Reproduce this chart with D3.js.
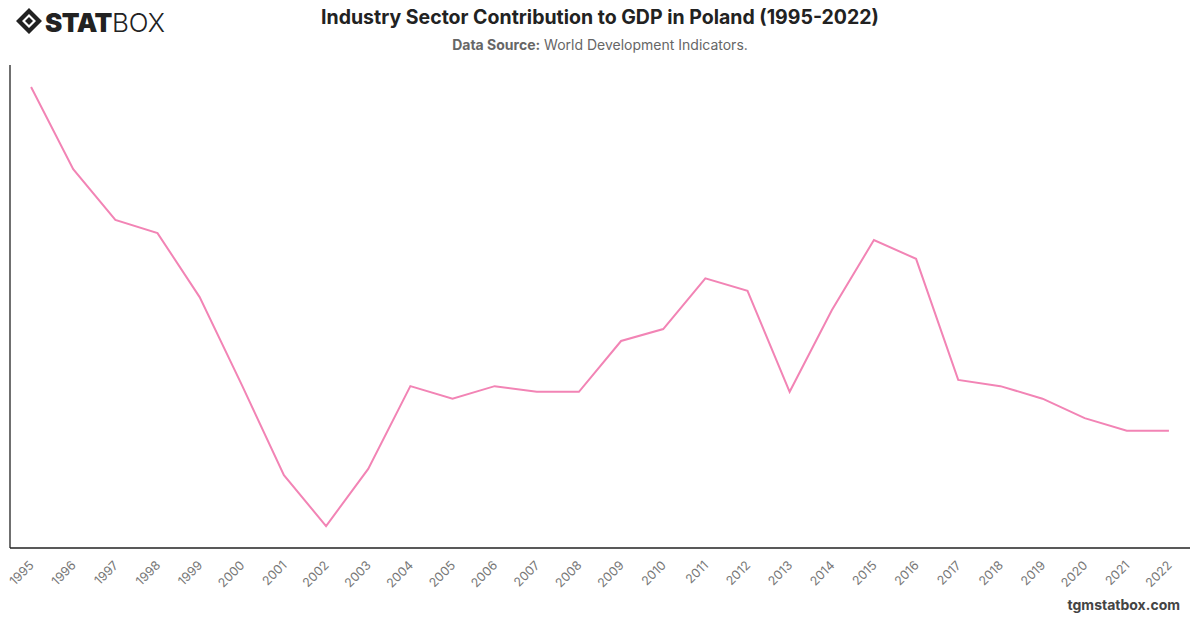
<!DOCTYPE html>
<html>
<head>
<meta charset="utf-8">
<script src="https://cdn.jsdelivr.net/npm/d3@7"></script>
<style>
  body { margin: 0; background: #fff; }
  svg { font-family: Inter, "Open Sans", sans-serif; }
</style>
</head>
<body>
<svg width="1200" height="628"></svg>
<script>
// industry value added, % of GDP
const years = ["1995","1996","1997","1998","1999","2000","2001","2002","2003","2004","2005","2006","2007","2008",
  "2009","2010","2011","2012","2013","2014","2015","2016","2017","2018","2019","2020","2021","2022"];
const industryShare = [35.0, 33.69, 32.88, 32.67, 31.65, 30.25, 28.81, 28.0, 28.91, 30.23, 30.03, 30.23, 30.14, 30.14,
  30.95, 31.14, 31.95, 31.75, 30.14, 31.44, 32.56, 32.26, 30.33, 30.23, 30.03, 29.72, 29.52, 29.52];

const svg = d3.select("svg");
const width = +svg.attr("width");

const margin = { top: 65, right: 10, bottom: 80, left: 10 };
const innerBottom = 548;

// header
svg.append("text")
  .attr("x", width / 2).attr("y", 24)
  .attr("text-anchor", "middle")
  .attr("font-size", 19.5).attr("font-weight", 700).attr("fill", "#222")
  .text("Industry Sector Contribution to GDP in Poland (1995-2022)");

const sub = svg.append("text")
  .attr("x", width / 2).attr("y", 50)
  .attr("text-anchor", "middle")
  .attr("font-size", 14).attr("fill", "#666");
sub.append("tspan").attr("font-weight", 700).text("Data Source:");
sub.append("tspan").text(" World Development Indicators.");

// logo
const logo = svg.append("g").attr("transform", "translate(16,8)");
logo.append("path")
  .attr("d", "M13,0 L26,13 L13,26 L0,13 Z M13,6 L20,13 L13,20 L6,13 Z")
  .attr("fill", "#222").attr("fill-rule", "evenodd");
logo.append("path").attr("d", "M13,9 L17,13 L13,17 L9,13 Z").attr("fill", "#222");
const logoText = logo.append("text").attr("x", 29).attr("y", 24).attr("font-size", 26).attr("fill", "#222");
logoText.append("tspan").attr("font-weight", 900).attr("letter-spacing", -0.5).text("STAT");
logoText.append("tspan").attr("font-weight", 300).text("BOX");

// footer
svg.append("text")
  .attr("x", 1180).attr("y", 610)
  .attr("text-anchor", "end")
  .attr("font-size", 14).attr("font-weight", 700).attr("fill", "#444")
  .text("tgmstatbox.com");

// scales
const x = d3.scalePoint().domain(years).range([margin.left, width - margin.right]).padding(0.5);
const ext = d3.extent(industryShare);
const pad = (ext[1] - ext[0]) * 0.05;
const y = d3.scaleLinear().domain([ext[0] - pad, ext[1] + pad]).range([innerBottom, margin.top]);

// axes lines
svg.append("line")
  .attr("x1", margin.left).attr("x2", margin.left)
  .attr("y1", margin.top).attr("y2", innerBottom)
  .attr("stroke", "#222").attr("stroke-width", 1.3);

const xAxis = svg.append("g")
  .attr("transform", `translate(0,${innerBottom})`)
  .call(d3.axisBottom(x).tickSize(0).tickSizeOuter(0));
xAxis.select(".domain").attr("stroke", "#222").attr("stroke-width", 1.3)
  .attr("d", `M${margin.left},0H${width - margin.right}`);
xAxis.selectAll("text")
  .attr("font-size", 12.5).attr("fill", "#777")
  .attr("font-family", "Inter, sans-serif")
  .attr("text-anchor", "end")
  .attr("dx", 0).attr("dy", 0)
  .attr("transform", "translate(1,16) rotate(-45)");

// line
const line = d3.line()
  .x((d, i) => x(years[i]))
  .y(d => y(d));

svg.append("path")
  .datum(industryShare)
  .attr("fill", "none")
  .attr("stroke", "#f284b5")
  .attr("stroke-width", 2)
  .attr("d", line);
</script>
</body>
</html>
